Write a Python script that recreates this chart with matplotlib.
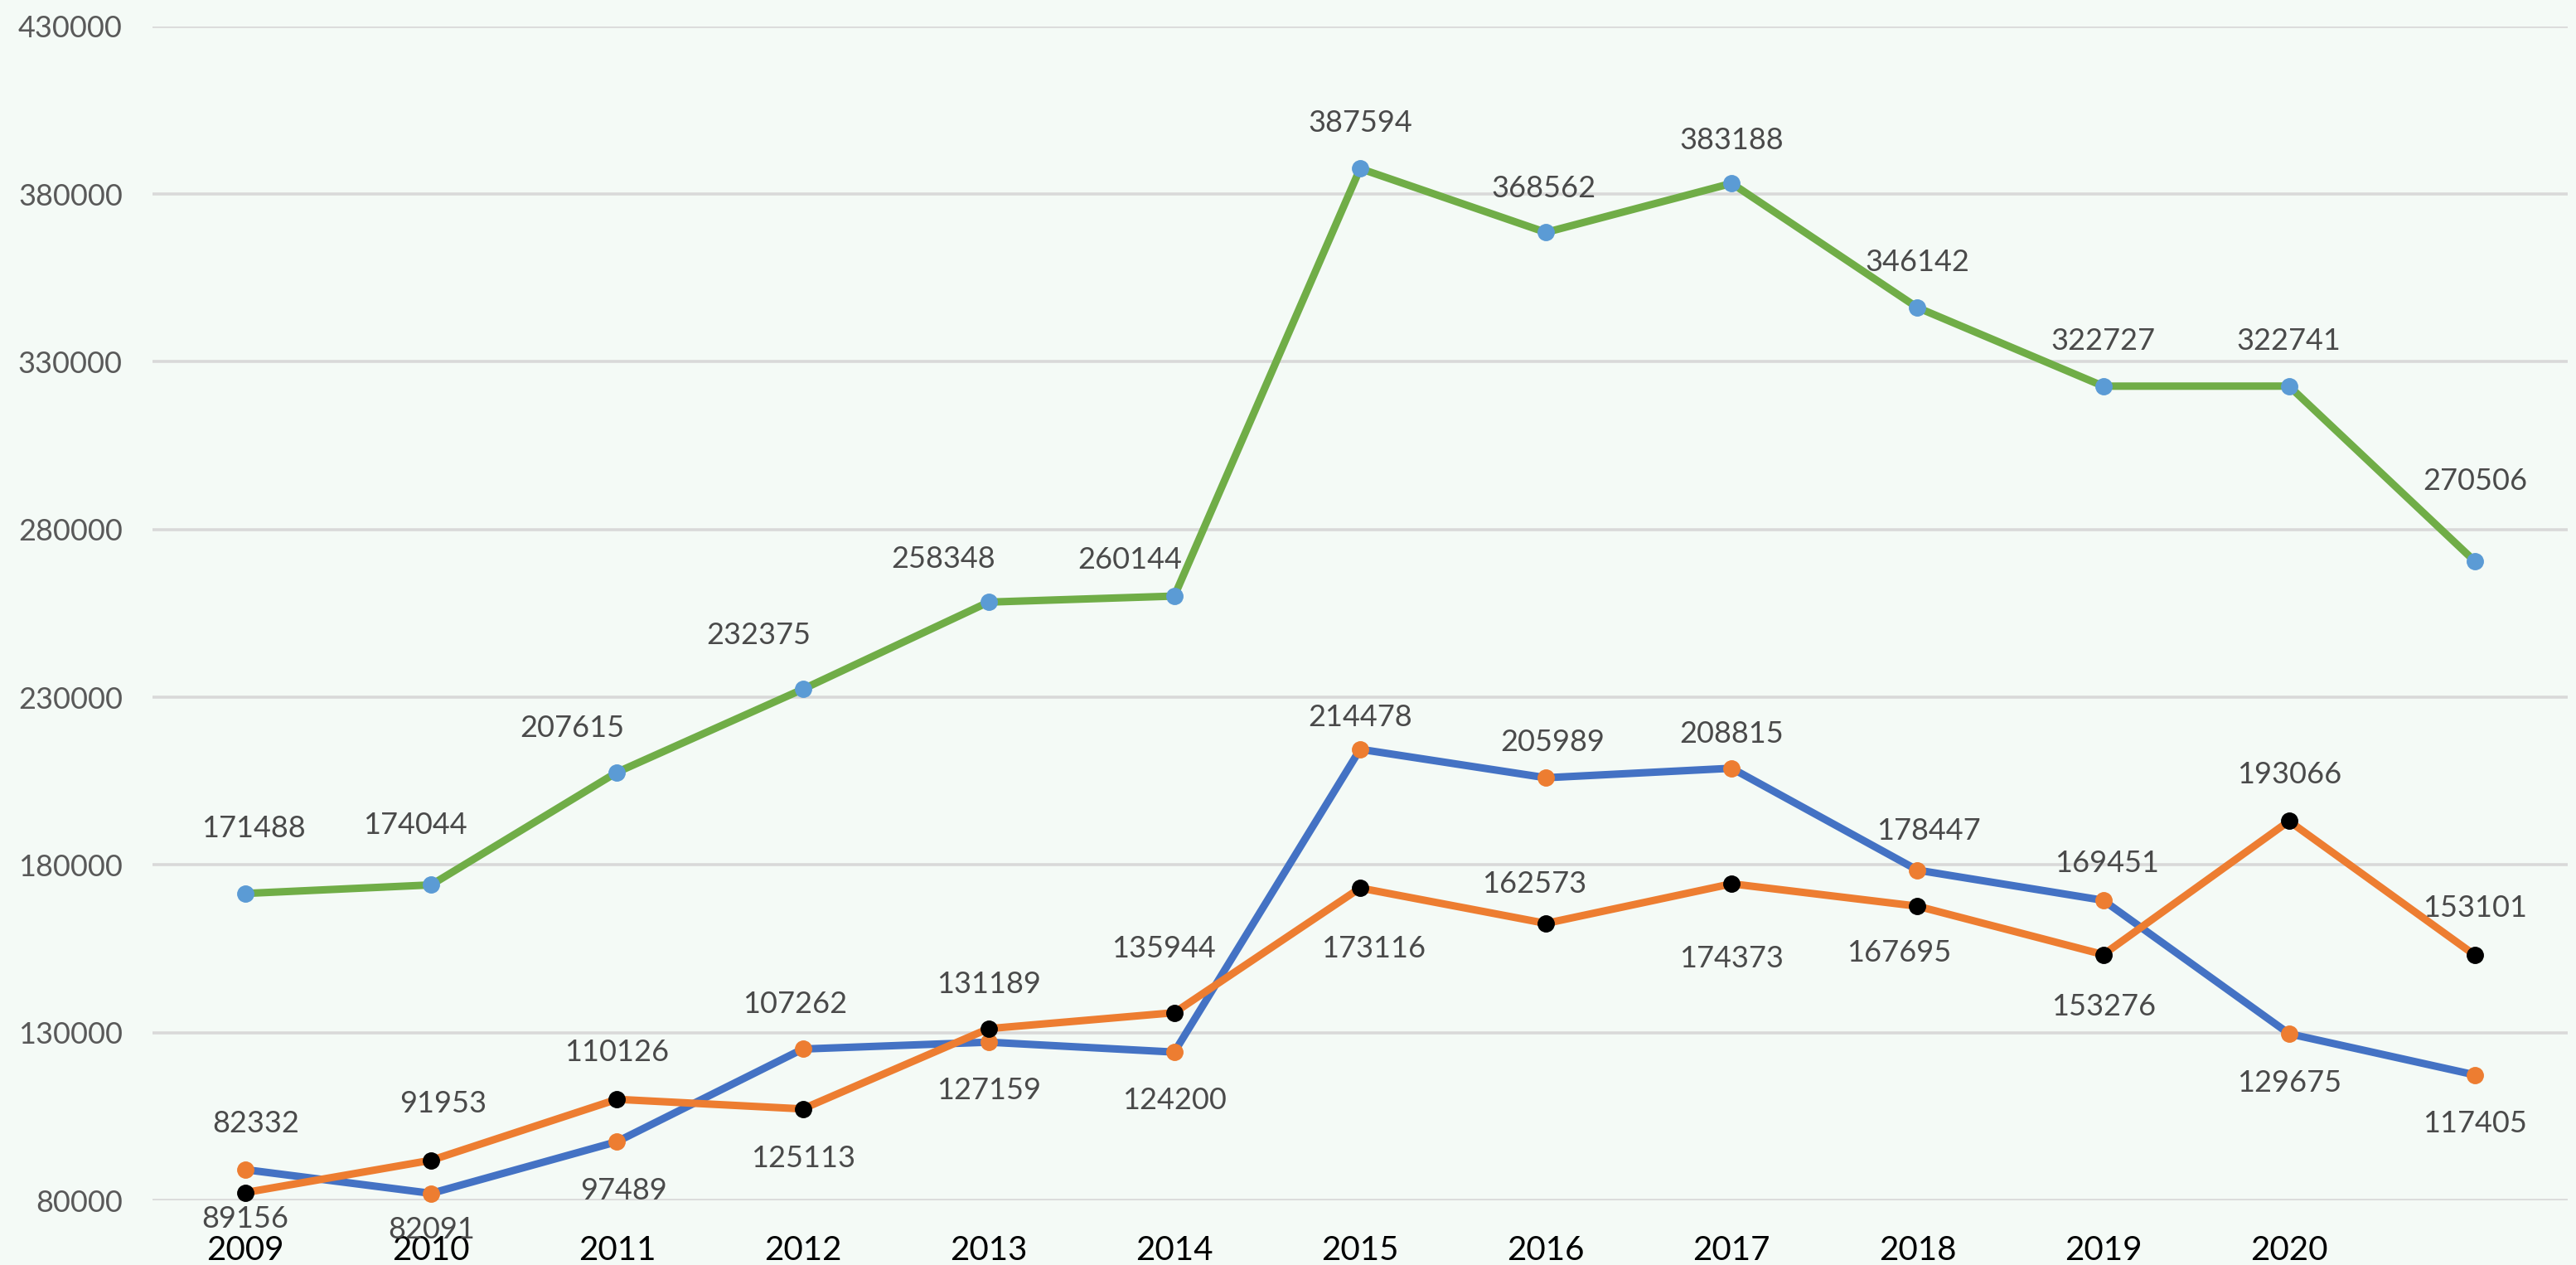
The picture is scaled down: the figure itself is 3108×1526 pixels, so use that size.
import matplotlib.pyplot as plt

# category labels (last point has no label in the original)
years = ['2009', '2010', '2011', '2012', '2013', '2014', '2015',
         '2016', '2017', '2018', '2019', '2020', '']

# green line, blue markers
total = [171488, 174044, 207615, 232375, 258348, 260144, 387594,
         368562, 383188, 346142, 322727, 322741, 270506]
# blue line, orange markers
series_a = [89156, 82091, 97489, 125113, 127159, 124200, 214478,
            205989, 208815, 178447, 169451, 129675, 117405]
# orange line, black markers
series_b = [82332, 91953, 110126, 107262, 131189, 135944, 173116,
            162573, 174373, 167695, 153276, 193066, 153101]

# label offsets in pixels (dx, dy), dy > 0 means above the point
total_off = [(10, 78), (-19, 72), (-54, 53), (-53, 65), (-55, 52), (-54, 44), (0, 55),
             (-3, 53), (0, 52), (0, 55), (0, 54), (0, 54), (0, 97)]
a_off = [(0, -60), (0, -44), (8, -59), (0, -132), (0, -58), (0, -58), (0, 38),
         (8, 43), (0, 41), (13, 47), (4, 45), (0, -59), (0, -59)]
b_off = [(13, 83), (14, 68), (0, 57), (-9, 126), (0, 53), (-13, 77), (16, -73),
         (-14, 47), (0, -90), (-22, -56), (0, -63), (0, 56), (0, 57)]

plt.rcParams['font.family'] = ['Lato', 'DejaVu Sans']
BG = '#F4FAF6'

fig = plt.figure(figsize=(31.08, 15.26), dpi=100, facecolor=BG)
ax = fig.add_axes([0.0592, 0.0511, 0.9376, 0.9281])
ax.set_facecolor(BG)

x = list(range(len(years)))
ax.plot(x, total, color='#70AD47', lw=6.5, marker='o', ms=14,
        mfc='#5B9BD5', mec='#5B9BD5', clip_on=False, zorder=3)
ax.plot(x, series_a, color='#4472C4', lw=6.5, marker='o', ms=14,
        mfc='#ED7D31', mec='#ED7D31', clip_on=False, zorder=3)
ax.plot(x, series_b, color='#ED7D31', lw=6.5, marker='o', ms=14,
        mfc='black', mec='black', clip_on=False, zorder=4)

def labels(vals, offs):
    for i, (v, (dx, dy)) in enumerate(zip(vals, offs)):
        ax.annotate(str(v), (i, v), xytext=(dx, dy), textcoords='offset pixels',
                    ha='center', va='center', fontsize=26, color='#4a4a4a',
                    annotation_clip=False, zorder=5)

labels(total, total_off)
labels(series_a, a_off)
labels(series_b, b_off)

ax.set_xlim(-0.5, 12.5)
ax.set_ylim(80000, 430000)
ax.set_yticks(range(80000, 430001, 50000))
ax.set_yticklabels([str(t) for t in range(80000, 430001, 50000)])
ax.set_xticks(x)
ax.set_xticklabels(years)

ax.grid(axis='y', color='#D9D9D9', lw=2.6, zorder=0)
ax.set_axisbelow(True)
for s in ax.spines.values():
    s.set_visible(False)
ax.tick_params(axis='y', length=0, pad=26, labelsize=26, labelcolor='#595959')
ax.tick_params(axis='x', length=0, pad=30, labelsize=29, labelcolor='black')

fig.savefig('out.png', dpi=100, facecolor=BG)
